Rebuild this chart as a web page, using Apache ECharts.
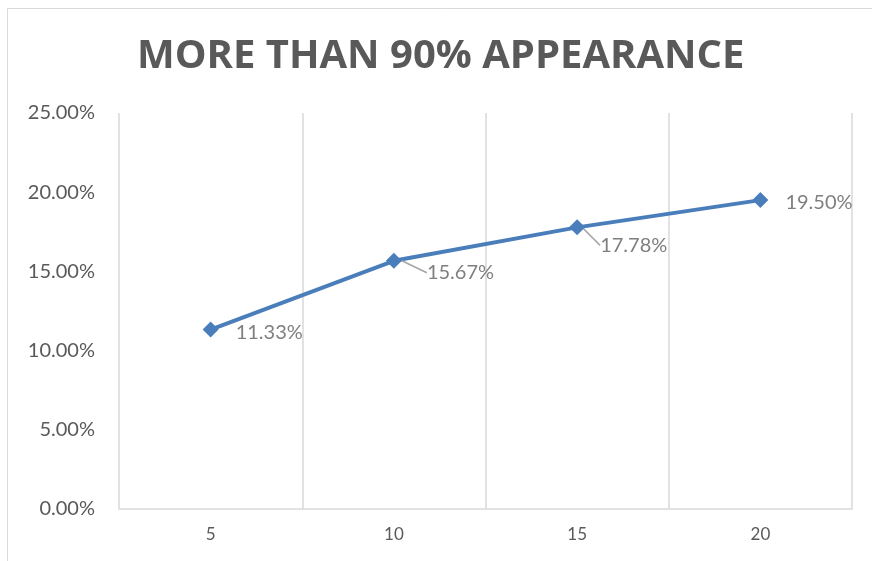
<!DOCTYPE html>
<html>
<head>
<meta charset="utf-8">
<script src="https://cdn.jsdelivr.net/npm/echarts@6/dist/echarts.min.js"></script>
<style>
    html, body { margin: 0; padding: 0; background: #fff; }
    #chart { width: 872px; height: 561px; }
</style>
</head>
<body>
<div id="chart"></div>
<script>
var titleText = "MORE THAN 90% APPEARANCE";
var categories = ["5", "10", "15", "20"];
var appearance = [11.33, 15.67, 17.78, 19.50];
var yTicks = [0, 5, 10, 15, 20, 25];

// label shifts; moved labels get a leader line
var labelShift = [[0, 3], [8, 12], [-2, 18], [0, 2]];
var leaderShown = [false, true, true, false];

var myChart = echarts.init(document.getElementById("chart"));

var seriesData = appearance.map(function (v, i) {
    return { value: v, labelLine: { show: leaderShown[i] } };
});

var option = {
    animation: false,
    title: {
        text: titleText,
        left: 132,
        top: 32,
        textStyle: {
            fontFamily: "Open Sans",
            fontWeight: "bold",
            fontSize: 40,
            color: "#595959"
        }
    },
    graphic: [{
        type: "rect",
        shape: { x: 7.5, y: 8.5, width: 900, height: 600 },
        style: { fill: "none", stroke: "#d9d9d9", lineWidth: 1 },
        silent: true
    }],
    grid: {
        left: 119,
        right: 20,
        top: 113,
        bottom: 52
    },
    xAxis: {
        type: "category",
        data: categories,
        boundaryGap: true,
        axisLine: { lineStyle: { color: "#d9d9d9", width: 1.5 } },
        axisTick: { show: false },
        splitLine: { show: true, lineStyle: { color: "#d9d9d9", width: 1.5 } },
        axisLabel: {
            margin: 17,
            fontFamily: "Lato",
            fontSize: 17,
            color: "#595959"
        }
    },
    yAxis: {
        type: "value",
        min: yTicks[0],
        max: yTicks[yTicks.length - 1],
        interval: 5,
        axisLine: { show: false },
        axisTick: { show: false },
        splitLine: { show: false },
        axisLabel: {
            margin: 24,
            fontFamily: "Lato",
            fontSize: 20,
            color: "#595959",
            formatter: function (v) { return v.toFixed(2) + "%"; }
        }
    },
    series: [{
        type: "line",
        data: seriesData,
        symbol: "diamond",
        symbolSize: 16,
        lineStyle: { color: "#4a7ebb", width: 4 },
        itemStyle: { color: "#4a7ebb" },
        label: {
            show: true,
            position: "right",
            distance: 17,
            fontFamily: "Lato",
            fontSize: 20,
            color: "#7f7f7f",
            formatter: function (p) { return p.value.toFixed(2) + "%"; }
        },
        labelLine: {
            lineStyle: { color: "#a6a6a6", width: 1.5 }
        },
        labelLayout: function (params) {
            var s = labelShift[params.dataIndex];
            return { dx: s[0], dy: s[1] };
        }
    }]
};

myChart.setOption(option);
</script>
</body>
</html>
